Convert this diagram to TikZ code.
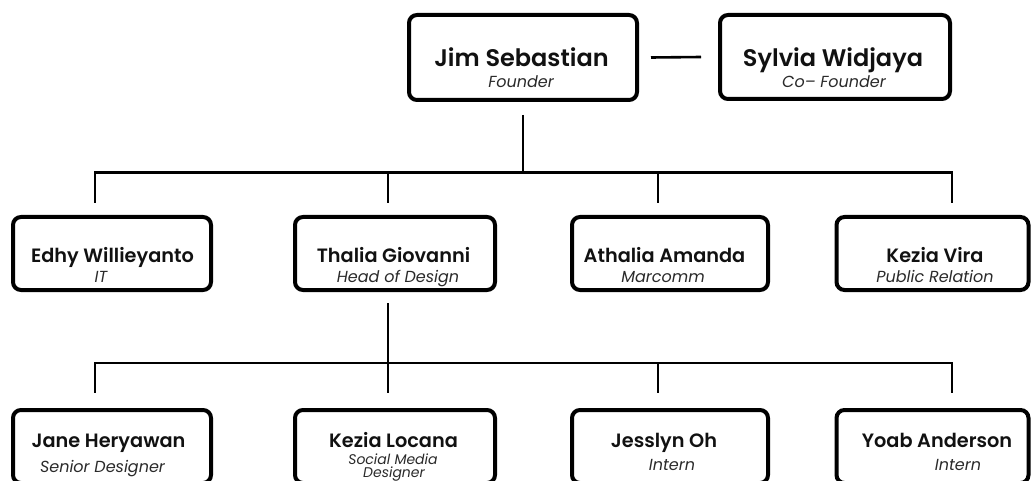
\documentclass[tikz,border=0pt]{standalone}
\usepackage{fontspec}
\setmainfont{Poppins}[BoldFont={Poppins SemiBold},BoldItalicFont={Poppins SemiBold Italic}]
\definecolor{ink}{HTML}{111111}
\definecolor{sub}{HTML}{2A2A2A}
\begin{document}
\begin{tikzpicture}[x=1pt,y=-1pt,
  card/.style={draw=black,line width=4pt,rounded corners=8pt,inner sep=0pt,fill=white},
  topname/.style={anchor=base,inner sep=0pt,font=\bfseries\fontsize{24}{26}\selectfont,text=ink},
  pname/.style={anchor=base,inner sep=0pt,font=\bfseries\fontsize{19.3}{21}\selectfont,text=ink},
  prole/.style={anchor=base,inner sep=0pt,font=\itshape\fontsize{16}{17}\selectfont,text=sub},
  smallrole/.style={anchor=base,inner sep=0pt,font=\itshape\fontsize{14}{15}\selectfont,text=sub},
  wire/.style={draw=black,line width=2.6pt}]
\useasboundingbox (0,0) rectangle (1031,481);
\clip (0,0) rectangle (1031,481);
\fill[white] (0,0) rectangle (1031,481);
% boxes
\node[card,minimum width=228pt,minimum height=85pt] (jim) at (523,57.5) {};
\node[card,minimum width=230pt,minimum height=84pt] (syl) at (835,57) {};
\node[card,minimum width=198pt,minimum height=73pt] (edhy) at (112,253.5) {};
\node[card,minimum width=200pt,minimum height=73pt] (thalia) at (395,253.5) {};
\node[card,minimum width=196pt,minimum height=73pt] (athalia) at (670,253.5) {};
\node[card,minimum width=192pt,minimum height=73pt] (kvira) at (932.5,253.5) {};
\node[card,minimum width=198pt,minimum height=73pt] (jane) at (112,446.5) {};
\node[card,minimum width=200pt,minimum height=73pt] (klocana) at (395,446.5) {};
\node[card,minimum width=196pt,minimum height=73pt] (jess) at (670,446.5) {};
\node[card,minimum width=192pt,minimum height=73pt] (yoab) at (932.5,446.5) {};
% texts
\node[topname] (t1) at (521.5,67) {Jim Sebastian};
\node[prole] (r1) at (521,88) {Founder};
\node[topname] (t2) at (833,67) {Sylvia Widjaya};
\node[prole] (r2) at (834,88) {Co– Founder};
\node[pname] (t3) at (112.5,262) {Edhy Willieyanto};
\node[prole] (r3) at (101,283) {IT};
\node[pname] (t4) at (393.5,262) {Thalia Giovanni};
\node[prole] (r4) at (398,283) {Head of Design};
\node[pname] (t5) at (664.5,262) {Athalia Amanda};
\node[prole] (r5) at (663,283) {Marcomm};
\node[pname] (t6) at (935,262) {Kezia Vira};
\node[prole] (r6) at (935,283) {Public Relation};
\node[pname] (t7) at (108.5,447) {Jane Heryawan};
\node[prole] (r7) at (102.5,472) {Senior Designer};
\node[pname] (t8) at (393.5,447) {Kezia Locana};
\node[smallrole] (r8) at (393,464) {Social Media};
\node[smallrole] (r8b) at (394,477) {Designer};
\node[pname] (t9) at (664,447) {Jesslyn Oh};
\node[prole] (r9) at (672,470) {Intern};
\node[pname] (t10) at (937,447) {Yoab Anderson};
\node[prole] (r10) at (958,470) {Intern};
% connector points
\coordinate (b1l) at (95,172.5);
\coordinate (b1r) at (952,172.5);
\coordinate (b2l) at (95,363);
\coordinate (b2r) at (952,363);
% connectors
\draw[wire] ([xshift=12pt]jim.east) -- ([xshift=-17pt]syl.west);
\draw[wire] ([yshift=-13pt]jim.south) -- (jim.south |- b1l);
\draw[wire,line cap=rect] (b1l) -- (b1r);
\draw[wire] (b1l) -- (95,203);
\draw[wire] (388,172.5) -- (388,203);
\draw[wire] (658,172.5) -- (658,203);
\draw[wire] (b1r) -- (952,203);
\draw[wire] (388,303) -- (388,393);
\draw[wire,line cap=rect] (b2l) -- (b2r);
\draw[wire] (b2l) -- (95,393);
\draw[wire] (658,363) -- (658,393);
\draw[wire] (b2r) -- (952,393);
\end{tikzpicture}
\end{document}
